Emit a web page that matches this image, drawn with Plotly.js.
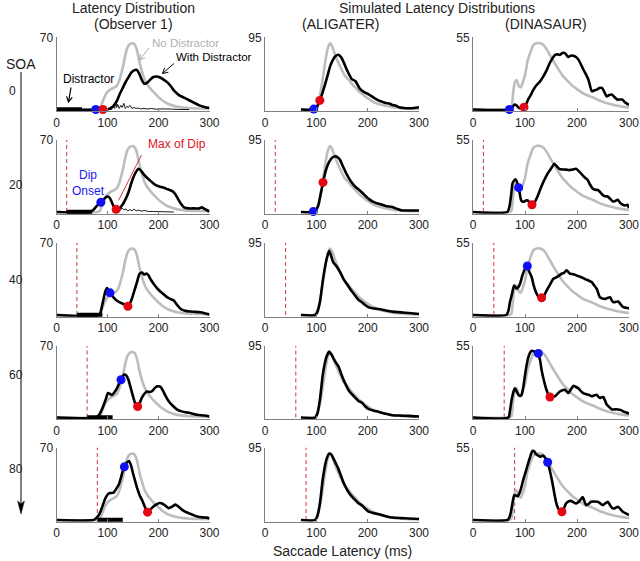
<!DOCTYPE html>
<html><head><meta charset="utf-8">
<script src="https://cdn.plot.ly/plotly-3.0.1.min.js"></script>
<style>html,body{margin:0;padding:0;background:#fff}#chart{width:640px;height:561px}</style>
</head><body><div id="chart"></div>
<script>
// ---------------- DATA ----------------
const SOAS = [0, 20, 40, 60, 80];
const SOA_LABELS = ['0', '20', '40', '60', '80'];
const DISTRACTOR_DUR = 50;
const YMAX = [70, 95, 55];
const X_TICKS = [0, 100, 200, 300];
const COL_TITLES = ['(Observer 1)', '(ALIGATER)', '(DINASAUR)'];

// Column 1: Observer 1 — no-distractor (gray) distribution
const OBS_GRAY_X = [0,80,85,90,95,100,106,112,118,123,127,131,135,139,143,147,151,155,158,161,164,168,172,177,183,190,198,206,215,225,235,248,262,280,300];
const OBS_GRAY_Y = [0,0,1,7,13,17,19.5,21,23,28,35,43,53,60,63,64,64,61.5,57,50,43,36,30,25,21,17,13,9.5,6.5,4.3,2.8,1.8,1.2,1,0.8];
// with-distractor distributions, one per SOA row
const OBS_BLACK_X = [
  [0,100,105,111,118,124,130,137,142,147,152,157,162,167,172,178,184,190,196,203,210,218,225,231,240,250,260,270,280,290,300],
  [0,65,72,79,87,94,99,104,108,112,117,122,128,135,141,146,151,156,161,166,172,178,185,192,200,208,216,226,232,238,244,250,260,270,280,285,290,300],
  [0,84,88,92,96,99,102,105,110,118,125,132,140,144,148,153,158,163,168,172,176,180,185,190,197,203,210,216,223,230,236,243,252,262,272,282,292,300],
  [0,78,84,90,96,101,105,109,114,119,124,128,133,137,141,146,151,155,159,163,167,172,177,183,188,193,198,204,209,214,220,227,236,245,255,265,276,290,300],
  [0,72,77,82,87,92,97,102,107,112,117,122,127,132,137,142,146,150,154,158,163,168,173,178.5,184,190,196,202,207,213,220,227,233,239,246,252,259,267,276,286,295,300]
];
const OBS_BLACK_Y = [
  [0,0,1,3,8,15,21,28,32,36,38,38.5,35,29,25,26,29,31.5,32,31,29,26,22,18,14,11.5,9,6.5,4,2.5,1.5],
  [0,0,2,6,9.5,13,15,14,10,5.5,2.6,3,6,12,19,27,34,39,42,40,36,33,30,27,25,24,22.5,20.5,18,13,8,4.5,3.5,3.5,3.5,4.5,3,0.5],
  [0,0,6,15,23,26,24,21.4,18,14,12,10.5,8.5,11,16,24,32,40,41,39,40,38.5,34,30.5,26,23,20,17.5,15.5,14,10,6,4,3.3,3,2.6,1.5,0.5],
  [0,0,3,9,17,24,23,22,25,29,35,39,42,41,37,28,19,13,10.8,14,19,23,25.5,25,26,29,30.5,30,26,21,16,12,8,6,5,4,2.6,2,1],
  [0,0,1.5,4,9,16,22,25.6,26,26.5,30,34,42,51,55,57,53,45,38,31,24,19,13,7.6,10,13,15,16.4,16,14,11.5,13,14.8,13,10,8,6.6,5,3.3,2.5,2.3,1.5]
];
// thin difference traces near the baseline (rows SOA 0 and 20)
const OBS_THIN_X = [
  [100,108,111,114,116,118,120,123,126,129,132,135,138,141,144,148,152,156,160,165,170,178,186,195,205,215,225,240,260],
  [110,116,120,124,128,132,136,140,144,148,152,156,160,166,172,180,190,200,215,230]
];
const OBS_THIN_Y = [
  [0,0,3,1,8,2,5,1,4,2,6,1,3,2,4,1,2,1,1.5,0.5,1,0.5,1,0.3,0.6,0.2,0.4,0,0],
  [0,1,3,1,4,2,3,1,2.5,1,3,1,2,0.8,1.5,0.5,0.5,0.2,0.3,0]
];
const OBS_ONSET_X = [77, 87, 105, 126.5, 133];
const OBS_ONSET_Y = [0, 9.5, 21.4, 37, 51.3];
const OBS_MAXDIP_X = [91, 117, 140, 159, 178.5];
const OBS_MAXDIP_Y = [0, 2.6, 8.5, 10.8, 7.6];

// Column 2: ALIGATER
const ALI_GRAY_X = [70,95,100,104,108,112,117,122,126.5,131,136,142,149,155,162,169,176,182,189,195,202,210,221,235,248,265,280,300];
const ALI_GRAY_Y = [0,0,3,10,22,38,61,80,87,83,73,63,53,45,40,34,29,24.5,20.3,17,14,10.5,7.3,5,3,2,1,1];
const ALI_BLACK_X = [
  [70,97,101,106.8,112,117,122,127,132,137,143,149,154,159,164,169,176,180,185,193,202,211,221,229,235,242,248,255,261,270,280,290,300],
  [70,97,100,104,108,113,117,120,125,130,134,138,142,146,152,159,164,169,175,182,190,202,212,222,235,248,258,267,280,290,300],
  [70,98,102,107,113,120,125,129,133,138,143,148,153,158,162,169,176,182,189,195,202,212,222,235,248,265,280,300],
  [70,98,102,107,113,120,125,129,133,138,143,148,153,158,162,169,176,182,189,195,202,212,222,235,248,265,280,300],
  [70,98,102,107,113,120,125,129,133,138,143,148,153,158,162,169,176,182,189,195,202,212,222,235,248,265,280,300]
];
const ALI_BLACK_Y = [
  [0,0,3,12,22,33,45,57,65,70,72,68,61,53,46,40,37.5,33,27,23,20,16,12,10,8.5,8,6,5,3,2,1.7,2,3],
  [0,0,3,9,22,39,51,58,66,71,73,73.4,72,69,60,50,44,39,34,30,25,17.3,13,10.8,8,6.5,4,2,2,2,2],
  [0,0,4,17,47,73,84,77,69,65,60,54,47,42,38,31,25,20,16.6,13,10,8.5,7.8,6,4.4,3.5,2.6,1.3],
  [0,0,5,24,59,81,87.6,84,79,73,68,59,50,43,37,31,26,22,19.7,15,11,9,7.4,5,3,2.5,2.2,1.3],
  [0,0,5,22,56,80,87,86,81,74,67,58,49,42,37,31,26,22,19,15,11,9,7.4,5,3.2,2.5,2,1.3]
];
const ALI_ONSET_X = [95, 94, null, null, null];
const ALI_ONSET_Y = [0.5, 0.5, null, null, null];
const ALI_MAXDIP_X = [106.8, 113, null, null, null];
const ALI_MAXDIP_Y = [12, 39, null, null, null];

// Column 3: DINASAUR
const DIN_GRAY_X = [0,70,74,77,80,84,88,92,96,100,105,110,116,122,129,136,143,150,156,163,172,180,190,200,211,222,232,242,250,260,275,290,300];
const DIN_GRAY_Y = [0,0,1,12,20,22.5,18,17,21,26,37,43,49,50.5,50.5,49,45,40,36,31.5,26,22.5,18.5,15.5,12.5,10.5,9,7,5.8,4.5,3,2,1.5];
const DIN_BLACK_X = [
  [0,70,75,80,84,88,93,98,102,106,111,116,122,129,135,141.7,146,151,158,163,167,172,177,183,188,193,198,203,208,212.5,217,222,228.5,233,238,243,248,253,257,262,267,272,277,282,287,292,296,300],
  [0,66,70,73,76,79,81.5,84,87.8,90,92.3,95,98.7,102,105,109,113.5,118,124,129,134,139,143.6,150,156.4,161,166,172,179,185,192,198,204,211,216,220.5,225,230,235,240,245,249.5,254,259,264,269,274,278.5,283,288,293,297,300],
  [0,64,68,71,75,79,84,87,90.4,95,100,104.5,108,112.8,117,122.5,127,132,137,141.7,148,154.6,160,164,170.6,175,180,186.6,193,199.4,206,212.3,217,222,228.3,233,238,244,249,254,259,263.5,267,270,275,279.5,284,289,294,298.7,300],
  [0,68,71,74.4,78,80.8,84,87.2,90,93.6,97,100,103,106.4,110,112.8,116,119.2,122,125.6,129,132,136,140.3,144,148,153,157.5,162,167,172,176.8,180,183.3,188,192.9,198,202.5,207,212,217,221.7,225,228,233,237.7,241,244,247,250.5,254,257,262,266.5,271,276,281,285.7,290,295.3,300],
  [0,66.7,70,73,76,79.5,83,85.9,89,92.3,97,102,106,109.6,112,114.7,118,121,125,128.8,132,135.2,139,143.6,148,151.9,156,159.6,163,166,171,175,178.8,183,188.5,193,198,204,211,214,217.3,222,227,233,239.8,245,249.5,254,259,264,268.7,273,278.3,283,288,294,300]
];
const DIN_BLACK_Y = [
  [0,0,1.5,3.8,3,1.3,1,1.8,4,7.6,11,15,18.5,21.4,25,30,34,37.8,41.6,42,41.6,43,43,40,41,41,40,37.8,34,30.3,27,22.7,14,14.5,15.1,16.4,16.4,13,10,11,11.4,9.5,7.6,7.6,7.6,5.5,4.5,3.5],
  [0,0,4,11.8,21.8,24,25,23.5,18.6,14,9.3,8,8,8.8,8.8,7,5.5,7,11.8,17,21.8,26,29.4,33,36.9,35,33,32.5,32.4,32,32.4,33,31,28,26,24.4,21,18,17,16.8,15,13,12,11.8,10,8,8.5,9.3,7,5.5,5,5.5,3],
  [0,0,3,9.7,16,22.4,19.9,21,23.7,30,35,37.2,33,28.8,22,16,13.5,13,15,18.6,23,27.5,28.5,29.5,31.3,32,33.9,31.3,31,30,29,28,27,26.2,25,22.5,19.9,13.5,12.5,12.2,13,13.5,11,9.7,10,10.2,8,5.9,5.5,5.1,5],
  [0,0,5,13.8,20,22.5,20,17.5,16.5,17.5,24,32.5,40,46.3,50,51.3,51,50.8,50,49.3,44,36.3,29,22.5,18.5,15.8,16,16.3,18,20,21,21.3,20,18.8,21.5,24.3,23.5,22.5,20.5,18.8,18,17.5,17,16.3,17,17.5,16,15,15.5,15.8,13,10,8,6.3,6.2,6.3,6,5.5,4.5,3.8,2.8],
  [0,0,2,6.3,13,18.8,18.5,18,20,23.8,31,37.5,43,47.5,50.5,52.5,52,50,49,48,48.5,48.8,47,43.8,37,30,21,13.8,9.5,7.5,6.3,9,12.5,14,14.5,13.5,12.5,14,17.5,14.5,11.3,12,13.8,14,13.8,12.5,11.3,12.5,13.8,11,8.8,9,10,8.5,6.3,5,3.8]
];
const DIN_ONSET_X = [70, 87.8, 104.5, 125.6, 143.6];
const DIN_ONSET_Y = [0, 18.6, 37.2, 49.3, 43.8];
const DIN_MAXDIP_X = [98, 113.5, 132, 148, 171];
const DIN_MAXDIP_Y = [1.8, 5.5, 13, 15.8, 6.3];

// ---------------- STYLE / LAYOUT ----------------
const FONT = 'Liberation Sans, Arial, Helvetica, sans-serif';
const W = 640, H = 561;
const COL_PX = [[56.5, 209.5], [265, 419], [473, 629]];
const ROW_PX = [[37.3, 109.5], [140, 212], [242.5, 315], [346, 417.5], [447.5, 520]];
const PADF = 0.025;
const GRAY = '#bdbdbd', BLACK = '#000000', AXC = '#808080';
const DOT_BLUE = '#1010f5', DOT_RED = '#e30613', DASH_RED = '#d24b4b';

const COLS = [
  {gx: OBS_GRAY_X, gy: OBS_GRAY_Y, bx: OBS_BLACK_X, by: OBS_BLACK_Y, ox: OBS_ONSET_X, oy: OBS_ONSET_Y, mx: OBS_MAXDIP_X, my: OBS_MAXDIP_Y},
  {gx: ALI_GRAY_X, gy: ALI_GRAY_Y, bx: ALI_BLACK_X, by: ALI_BLACK_Y, ox: ALI_ONSET_X, oy: ALI_ONSET_Y, mx: ALI_MAXDIP_X, my: ALI_MAXDIP_Y},
  {gx: DIN_GRAY_X, gy: DIN_GRAY_Y, bx: DIN_BLACK_X, by: DIN_BLACK_Y, ox: DIN_ONSET_X, oy: DIN_ONSET_Y, mx: DIN_MAXDIP_X, my: DIN_MAXDIP_Y}
];

const traces = [];
const layout = {
  width: W, height: H, margin: {l: 0, r: 0, t: 0, b: 0},
  showlegend: false, paper_bgcolor: '#fff', plot_bgcolor: 'rgba(0,0,0,0)',
  font: {family: FONT, color: '#222'},
  annotations: [], shapes: []
};
const px = x => x / W;
const py = y => 1 - y / H;

for (let r = 0; r < 5; r++) {
  for (let c = 0; c < 3; c++) {
    const k = r * 3 + c + 1;
    const xa = k === 1 ? 'x' : 'x' + k;
    const ya = k === 1 ? 'y' : 'y' + k;
    const ym = YMAX[c];
    const D = COLS[c];
    const soa = SOAS[r];
    const [top, base] = ROW_PX[r];
    const bottom = base + PADF * (base - top);
    layout[k === 1 ? 'xaxis' : 'xaxis' + k] = {
      domain: [px(COL_PX[c][0]), px(COL_PX[c][1])], range: [0, 300], anchor: ya,
      tickmode: 'array', tickvals: X_TICKS, ticktext: X_TICKS.map(String),
      ticks: 'inside', ticklen: 3, tickcolor: AXC, tickwidth: 1,
      showline: true, linecolor: AXC, linewidth: 1,
      showgrid: false, zeroline: false,
      tickfont: {family: FONT, size: 12, color: '#222'}, fixedrange: true
    };
    layout[k === 1 ? 'yaxis' : 'yaxis' + k] = {
      domain: [py(bottom), py(top)], range: [-PADF * ym, ym], anchor: xa,
      tickmode: 'array', tickvals: [ym], ticktext: [String(ym)],
      ticks: 'inside', ticklen: 4, tickcolor: AXC, tickwidth: 1,
      showline: true, linecolor: AXC, linewidth: 1,
      showgrid: false, zeroline: false,
      tickfont: {family: FONT, size: 12, color: '#222'}, fixedrange: true
    };
    if (soa > 0) {
      traces.push({x: [soa, soa], y: [0, ym], xaxis: xa, yaxis: ya, mode: 'lines',
        line: {color: DASH_RED, width: 1.1, dash: '4px,3px'}, hoverinfo: 'skip'});
    }
    traces.push({x: D.gx, y: D.gy, xaxis: xa, yaxis: ya, mode: 'lines',
      line: {color: GRAY, width: 2.6, shape: 'spline', smoothing: 0.6}, hoverinfo: 'skip'});
    if (c === 0) {
      traces.push({x: [soa, soa + DISTRACTOR_DUR], y: [0, 0], xaxis: xa, yaxis: ya, mode: 'lines',
        line: {color: BLACK, width: 4.5}, hoverinfo: 'skip'});
    }
    traces.push({x: D.bx[r], y: D.by[r], xaxis: xa, yaxis: ya, mode: 'lines',
      line: {color: BLACK, width: 2.6, shape: 'spline', smoothing: 0.6}, hoverinfo: 'skip'});
    if (c === 0 && r < OBS_THIN_X.length) {
      traces.push({x: OBS_THIN_X[r], y: OBS_THIN_Y[r], xaxis: xa, yaxis: ya, mode: 'lines',
        line: {color: BLACK, width: 0.9}, hoverinfo: 'skip'});
    }
    if (D.ox[r] !== null) {
      traces.push({x: [D.ox[r]], y: [D.oy[r]], xaxis: xa, yaxis: ya, mode: 'markers', cliponaxis: false,
        marker: {color: DOT_BLUE, size: 9}, hoverinfo: 'skip'});
    }
    if (D.mx[r] !== null) {
      traces.push({x: [D.mx[r]], y: [D.my[r]], xaxis: xa, yaxis: ya, mode: 'markers', cliponaxis: false,
        marker: {color: DOT_RED, size: 9}, hoverinfo: 'skip'});
    }
  }
}

function ann(text, x, y, size, color, xanchor) {
  layout.annotations.push({text: text, x: px(x), y: py(y), xref: 'paper', yref: 'paper',
    showarrow: false, xanchor: xanchor || 'center', yanchor: 'middle',
    font: {family: FONT, size: size, color: color || '#222'}});
}
// titles
ann('Latency Distribution', 133, 8, 14);
ann(COL_TITLES[0], 133, 24, 14);
ann('Simulated Latency Distributions', 437, 8, 14);
ann(COL_TITLES[1], 341, 24, 14);
ann(COL_TITLES[2], 546, 24, 14);
ann('Saccade Latency (ms)', 342, 551, 14);
// SOA label column
ann('SOA', 21, 64, 14);
const SOA_LABEL_Y = [91, 185, 280, 375, 469];
for (let r = 0; r < 5; r++) ann(SOA_LABELS[r], 6.5, SOA_LABEL_Y[r], 12, '#222', 'left');
// in-panel labels
ann('No Distractor', 185, 43, 11.5, '#b0b0b0');
ann('With Distractor', 214, 57, 11.5, '#000');
ann('Distractor', 88, 79, 12, '#000');
ann('Max of Dip', 177, 144, 12, '#e0141e');
ann('Dip<br>Onset', 88, 182.5, 12, '#1a1af0');

function vArrow(x0, y0, x1, y1, color, width) {
  const dx = x1 - x0, dy = y1 - y0, L = Math.hypot(dx, dy);
  const ux = -dx / L, uy = -dy / L, a = 0.5, len = 6;
  const r1 = [ux * Math.cos(a) - uy * Math.sin(a), ux * Math.sin(a) + uy * Math.cos(a)];
  const r2 = [ux * Math.cos(-a) - uy * Math.sin(-a), ux * Math.sin(-a) + uy * Math.cos(-a)];
  const p = `M ${px(x0)},${py(y0)} L ${px(x1)},${py(y1)} M ${px(x1 + r1[0] * len)},${py(y1 + r1[1] * len)} L ${px(x1)},${py(y1)} L ${px(x1 + r2[0] * len)},${py(y1 + r2[1] * len)}`;
  layout.shapes.push({type: 'path', xref: 'paper', yref: 'paper', path: p, line: {color: color, width: width || 1}});
}
vArrow(149, 48, 139.5, 60, '#a8a8a8', 1);
vArrow(174, 63.5, 162.5, 73.5, '#000', 1);
vArrow(71, 87.5, 68.5, 102, '#000', 1.2);
// Max of Dip pointer line
layout.shapes.push({type: 'line', xref: 'paper', yref: 'paper', x0: px(141.5), y0: py(155), x1: px(118.5), y1: py(200.5),
  line: {color: '#c8202a', width: 0.9}});
// SOA arrow
layout.shapes.push({type: 'line', xref: 'paper', yref: 'paper', x0: px(21), y0: py(72), x1: px(21), y1: py(506),
  line: {color: '#000', width: 1}});
layout.shapes.push({type: 'path', xref: 'paper', yref: 'paper',
  path: `M ${px(21)},${py(514)} L ${px(17.6)},${py(501)} L ${px(21)},${py(504)} L ${px(24.4)},${py(501)} Z`,
  fillcolor: '#000', line: {color: '#000', width: 0.5}});

Plotly.newPlot('chart', traces, layout, {displayModeBar: false, staticPlot: true});
</script>
</body></html>
